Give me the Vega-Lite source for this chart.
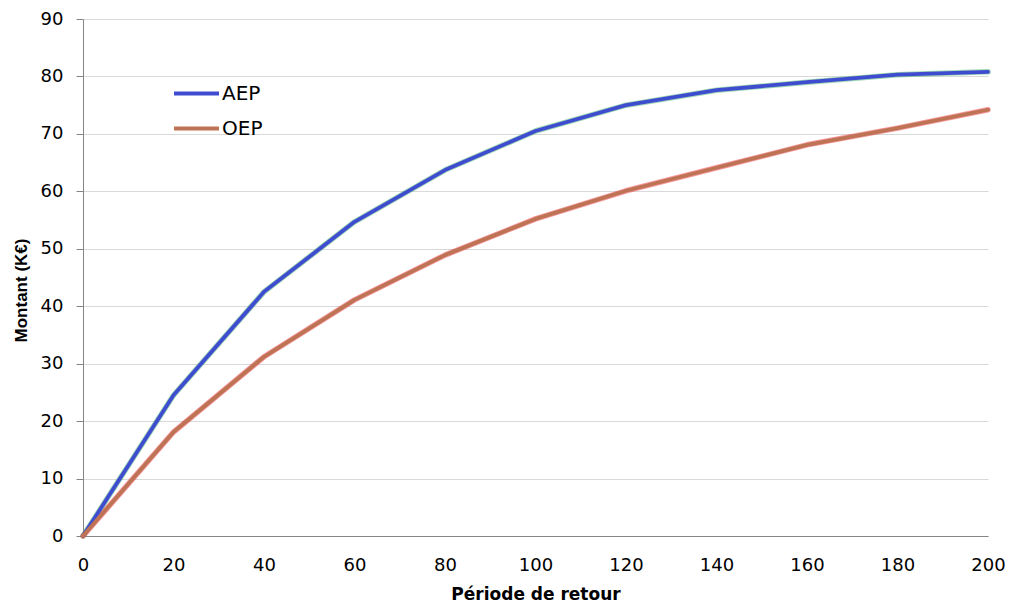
{
  "$schema": "https://vega.github.io/schema/vega-lite/v6.json",
  "width": 905,
  "height": 517,
  "autosize": {"type": "none"},
  "padding": {"left": 83, "top": 19, "right": 25, "bottom": 74},
  "background": "white",
  "config": {
    "view": {"stroke": null},
    "font": "DejaVu Sans",
    "axis": {
      "labelFont": "DejaVu Sans",
      "titleFont": "DejaVu Sans",
      "labelFontSize": 18,
      "labelColor": "#000000",
      "titleColor": "#000000",
      "titleFontSize": 17,
      "titleFontWeight": "bold",
      "domainColor": "#868686",
      "tickColor": "#868686",
      "gridColor": "#d9d9d9",
      "gridWidth": 1
    }
  },
  "data": {
    "values": [
      {"periode": 0, "montant": 0, "serie": "AEP"},
      {"periode": 20, "montant": 24.5, "serie": "AEP"},
      {"periode": 40, "montant": 42.5, "serie": "AEP"},
      {"periode": 60, "montant": 54.7, "serie": "AEP"},
      {"periode": 80, "montant": 63.7, "serie": "AEP"},
      {"periode": 100, "montant": 70.5, "serie": "AEP"},
      {"periode": 120, "montant": 75.0, "serie": "AEP"},
      {"periode": 140, "montant": 77.6, "serie": "AEP"},
      {"periode": 160, "montant": 79.0, "serie": "AEP"},
      {"periode": 180, "montant": 80.3, "serie": "AEP"},
      {"periode": 200, "montant": 80.8, "serie": "AEP"},
      {"periode": 0, "montant": 0, "serie": "OEP"},
      {"periode": 20, "montant": 18.1, "serie": "OEP"},
      {"periode": 40, "montant": 31.2, "serie": "OEP"},
      {"periode": 60, "montant": 41.1, "serie": "OEP"},
      {"periode": 80, "montant": 48.9, "serie": "OEP"},
      {"periode": 100, "montant": 55.2, "serie": "OEP"},
      {"periode": 120, "montant": 60.1, "serie": "OEP"},
      {"periode": 140, "montant": 64.1, "serie": "OEP"},
      {"periode": 160, "montant": 68.1, "serie": "OEP"},
      {"periode": 180, "montant": 71.0, "serie": "OEP"},
      {"periode": 200, "montant": 74.2, "serie": "OEP"}
    ]
  },
  "encoding": {
    "x": {
      "field": "periode",
      "type": "quantitative",
      "scale": {"domain": [0, 200], "nice": false, "zero": true},
      "axis": {
        "title": "Période de retour",
        "values": [0, 20, 40, 60, 80, 100, 120, 140, 160, 180, 200],
        "grid": false,
        "ticks": false,
        "labelPadding": 20,
        "titlePadding": 12,
        "labelFlush": false
      }
    },
    "y": {
      "field": "montant",
      "type": "quantitative",
      "scale": {"domain": [0, 90], "nice": false},
      "axis": {
        "title": "Montant (K€)",
        "titleFont": "Liberation Sans",
        "titleY": 271,
        "values": [0, 10, 20, 30, 40, 50, 60, 70, 80, 90],
        "tickSize": 7,
        "labelPadding": 13,
        "titlePadding": 10
      }
    }
  },
  "layer": [
    {
      "transform": [{"filter": "datum.serie === 'AEP'"}],
      "mark": {"type": "line", "strokeWidth": 5.5, "strokeCap": "round", "strokeJoin": "round", "opacity": 0.5, "stroke": "#3fb36a"}
    },
    {
      "transform": [{"filter": "datum.serie === 'OEP'"}],
      "mark": {"type": "line", "strokeWidth": 5.5, "strokeCap": "round", "strokeJoin": "round", "opacity": 0.5, "stroke": "#f0303a"}
    },
    {
      "mark": {"type": "line", "strokeWidth": 3.8, "strokeCap": "round", "strokeJoin": "round"},
      "encoding": {
        "color": {
          "field": "serie",
          "type": "nominal",
          "scale": {"domain": ["AEP", "OEP"], "range": ["#3f4cd0", "#be7355"]},
          "legend": {
            "title": null,
            "orient": "none",
            "legendX": 89,
            "legendY": 50,
            "symbolType": "stroke",
            "symbolSize": 2025,
            "symbolStrokeWidth": 4,
            "labelFontSize": 20,
            "labelFont": "DejaVu Sans",
            "labelColor": "#000000",
            "rowPadding": -19,
            "labelOffset": 1
          }
        }
      }
    }
  ]
}
